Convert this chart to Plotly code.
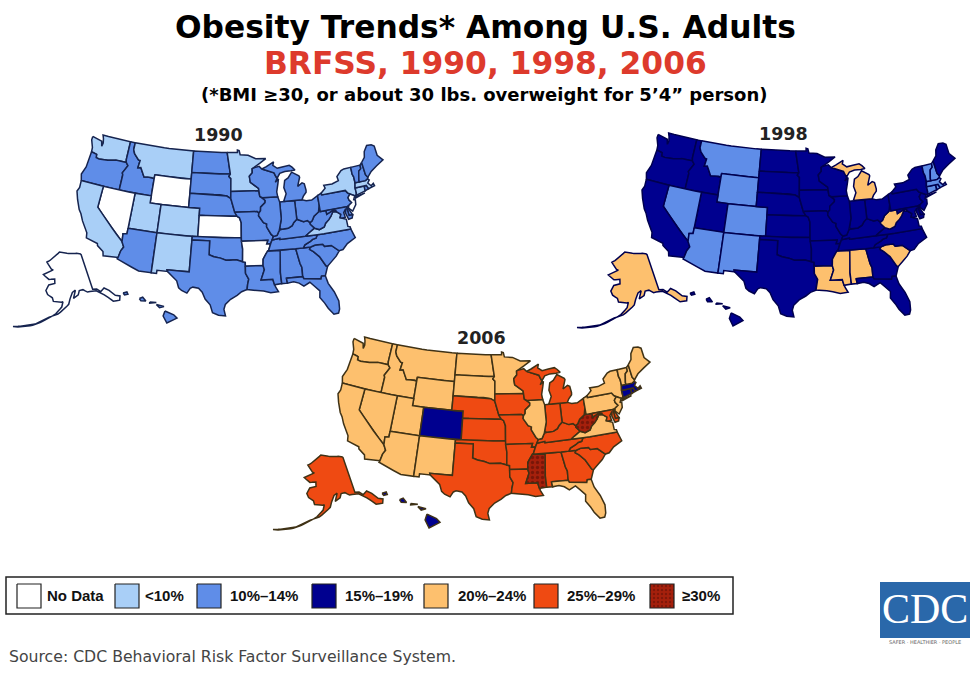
import numpy as np
import plotly.graph_objects as go

# legend classes
categories = ['No Data', '<10%', '10%\u201314%', '15%\u201319%', '20%\u201324%', '25%\u201329%', '\u226530%']
category_colors = ['#ffffff', '#a9cff7', '#5f8de8', '#00008f', '#fdc06e', '#ef4a12', '#a5200c']

# class of each state per year, everything not listed falls in the default class
default_1990 = '10%\u201314%'
no_data_1990 = ['WY', 'NV', 'KS', 'AR', 'AK', 'NJ']
under10_1990 = ['WA', 'MT', 'MN', 'NY', 'UT', 'CO', 'NM', 'CA', 'VA', 'MA', 'CT']

default_1998 = '15%\u201319%'
c10_14_1998 = ['MT', 'WY', 'NV', 'AZ', 'NM', 'CO', 'VT', 'NH', 'MA', 'CT', 'RI']
c20_24_1998 = ['AK', 'MI', 'WV', 'SC', 'LA', 'MS', 'AL']

default_2006 = '25%\u201329%'
c15_19_2006 = ['CO', 'MA', 'CT', 'RI', 'HI']
c20_24_2006 = ['WA', 'OR', 'CA', 'NV', 'ID', 'MT', 'WY', 'UT', 'AZ', 'NM', 'ND', 'SD', 'MN', 'IL',
               'NY', 'PA', 'VA', 'FL', 'ME', 'NH', 'VT', 'NJ']
c30_2006 = ['MS', 'WV']

# simplified state outlines, (lon, lat)
lower48 = {
    'WA': [(-124.7,48.4),(-123.0,48.15),(-122.7,48.1),(-122.4,47.4),(-122.3,47.9),(-122.5,48.5),(-122.8,49),(-117.03,49),(-117.04,46.4),(-116.92,46),(-118.98,46),(-119.3,45.93),(-120.5,45.7),(-121.2,45.65),(-122.2,45.57),(-122.8,45.65),(-122.9,46.1),(-123.4,46.2),(-124,46.27),(-124.1,46.9),(-124.7,47.9)],
    'OR': [(-124,46.27),(-123.4,46.2),(-122.9,46.1),(-122.8,45.65),(-122.2,45.57),(-121.2,45.65),(-120.5,45.7),(-119.3,45.93),(-118.98,46),(-116.92,46),(-116.46,45.6),(-116.85,44.95),(-117.2,44.45),(-117.03,44.2),(-117.03,42),(-124.2,42),(-124.55,42.85),(-124.1,44),(-123.95,45.5)],
    'ID': [(-117.03,49),(-116.05,49),(-116.05,48),(-115.7,47.45),(-114.7,46.7),(-114.35,46.65),(-114.5,45.6),(-113.95,45.7),(-113.45,45.05),(-113,44.45),(-112.3,44.55),(-111.5,44.55),(-111.05,44.48),(-111.05,42),(-117.03,42),(-117.03,44.2),(-117.2,44.45),(-116.85,44.95),(-116.46,45.6),(-116.92,46),(-117.04,46.4)],
    'MT': [(-116.05,49),(-104.05,49),(-104.05,45),(-111.05,45),(-111.05,44.48),(-111.5,44.55),(-112.3,44.55),(-113,44.45),(-113.45,45.05),(-113.95,45.7),(-114.5,45.6),(-114.35,46.65),(-114.7,46.7),(-115.7,47.45),(-116.05,48)],
    'WY': [(-111.05,45),(-104.05,45),(-104.05,41),(-111.05,41)],
    'UT': [(-114.05,42),(-111.05,42),(-111.05,41),(-109.05,41),(-109.05,37),(-114.05,37)],
    'CO': [(-109.05,41),(-102.05,41),(-102.05,37),(-109.05,37)],
    'NV': [(-120,42),(-114.05,42),(-114.05,36.2),(-114.7,36.1),(-114.6,35),(-120,39)],
    'CA': [(-124.2,42),(-120,42),(-120,39),(-114.6,35),(-114.15,34.3),(-114.5,33.7),(-114.7,32.72),(-117.12,32.53),(-117.3,33.1),(-118.4,33.75),(-118.5,34.03),(-119.2,34.15),(-120.5,34.45),(-120.65,35.15),(-121.9,36.6),(-122.5,37.5),(-123,38),(-123.8,39.3),(-124.35,40.4),(-124.1,41)],
    'AZ': [(-114.05,37),(-109.05,37),(-109.05,31.33),(-111.07,31.33),(-114.8,32.5),(-114.7,32.72),(-114.5,33.7),(-114.15,34.3),(-114.6,35),(-114.7,36.1),(-114.05,36.2)],
    'NM': [(-109.05,37),(-103,37),(-103.05,32),(-106.6,32),(-106.5,31.78),(-108.2,31.78),(-108.2,31.33),(-109.05,31.33)],
    'ND': [(-104.05,49),(-97.23,49),(-96.85,47.5),(-96.56,45.94),(-104.05,45.94)],
    'SD': [(-104.05,45.94),(-96.56,45.94),(-96.85,45.6),(-96.45,45.3),(-96.45,43.5),(-96.45,42.5),(-97.2,42.85),(-98.5,43),(-104.05,43)],
    'NE': [(-104.05,43),(-98.5,43),(-97.2,42.85),(-96.45,42.5),(-96.1,41.7),(-95.85,40.9),(-95.3,40),(-102.05,40),(-102.05,41),(-104.05,41)],
    'KS': [(-102.05,40),(-95.3,40),(-94.9,39.8),(-94.6,39.1),(-94.62,37),(-102.05,37)],
    'OK': [(-103,37),(-94.62,37),(-94.43,35.4),(-94.48,33.64),(-95.5,33.9),(-96.6,33.85),(-97.2,33.85),(-98.1,34.13),(-99.2,34.3),(-100,34.56),(-100,36.5),(-103,36.5)],
    'TX': [(-103,36.5),(-100,36.5),(-100,34.56),(-99.2,34.3),(-98.1,34.13),(-97.2,33.85),(-96.6,33.85),(-95.5,33.9),(-94.48,33.64),(-94.04,33.55),(-94.04,32),(-93.55,31.18),(-93.75,30.4),(-93.85,29.7),(-94.7,29.4),(-95.4,28.9),(-96.4,28.35),(-97.2,27.6),(-97.4,26.9),(-97.15,25.96),(-98.2,26.05),(-99.1,26.4),(-99.5,27.5),(-100.3,28.3),(-100.8,29.25),(-101.4,29.77),(-102.3,29.88),(-102.7,29.7),(-103.15,28.98),(-104,29.3),(-104.5,29.65),(-104.9,30.6),(-106.5,31.78),(-106.6,32),(-103.05,32)],
    'MN': [(-97.23,49),(-95.15,49),(-95.15,49.38),(-94.8,49.3),(-94.6,48.7),(-93,48.6),(-91.5,48.05),(-89.5,48),(-92.05,46.75),(-92.3,46.65),(-92.3,46.1),(-92.9,45.6),(-92.75,44.75),(-91.25,43.85),(-91.22,43.5),(-96.45,43.5),(-96.45,45.3),(-96.85,45.6),(-96.56,45.94),(-96.85,47.5)],
    'IA': [(-96.45,43.5),(-91.22,43.5),(-91.1,42.7),(-90.15,42.1),(-90.2,41.8),(-91.05,41.2),(-91.1,40.7),(-91.42,40.38),(-91.73,40.6),(-95.77,40.58),(-95.85,40.9),(-96.1,41.7),(-96.45,42.5)],
    'MO': [(-95.77,40.58),(-91.73,40.6),(-91.42,40.38),(-91.5,40),(-90.7,39),(-90.15,38.8),(-90.2,38.4),(-89.5,37.3),(-89.13,37),(-89.42,36.5),(-89.7,36),(-90.37,36),(-90.15,36.5),(-94.62,36.5),(-94.62,37),(-94.6,39.1),(-94.9,39.8),(-95.3,40)],
    'AR': [(-94.62,36.5),(-90.15,36.5),(-90.37,36),(-89.7,36),(-90.1,35.1),(-90.6,34.6),(-91.1,33.9),(-91.17,33),(-94.04,33),(-94.04,33.55),(-94.48,33.64),(-94.43,35.4)],
    'LA': [(-94.04,33),(-91.17,33),(-91,32.4),(-91.6,31),(-89.75,31),(-89.55,30.2),(-89.4,29.9),(-89,29.2),(-90.2,29.1),(-91.3,29.4),(-92.2,29.55),(-93.85,29.7),(-93.75,30.4),(-93.55,31.18),(-94.04,32)],
    'MS': [(-91.17,33),(-91.1,33.9),(-90.6,34.6),(-90.3,35),(-88.2,35),(-88.1,34.9),(-88.47,31.9),(-88.4,30.3),(-89.55,30.2),(-89.75,31),(-91.6,31),(-91,32.4)],
    'AL': [(-88.2,35),(-85.6,35),(-85.18,32.87),(-84.95,32.3),(-85,31),(-87.6,31),(-87.5,30.3),(-88,30.25),(-88.4,30.3),(-88.47,31.9),(-88.1,34.9)],
    'GA': [(-85.6,35),(-83.1,35),(-83.35,34.7),(-82.75,34.3),(-81.9,33.5),(-81.4,32.6),(-81.1,32.1),(-80.85,32),(-81.3,31.2),(-81.45,30.72),(-82.05,30.75),(-82.2,30.37),(-84.86,30.7),(-85,31),(-84.95,32.3),(-85.18,32.87)],
    'FL': [(-87.6,31),(-85,31),(-84.86,30.7),(-82.2,30.37),(-82.05,30.75),(-81.45,30.72),(-81.2,29.6),(-80.5,28.3),(-80.05,26.9),(-80.15,25.75),(-80.4,25.2),(-81.1,25.15),(-81.8,26.1),(-82.2,26.9),(-82.8,27.8),(-82.65,28.7),(-83.4,29.5),(-84,30.1),(-85,29.65),(-85.7,30.15),(-86.5,30.4),(-87.5,30.3)],
    'SC': [(-83.35,34.7),(-83.1,35),(-82.3,35.2),(-81.05,35.15),(-80.8,34.82),(-79.67,34.8),(-78.55,33.87),(-79.2,33.2),(-79.9,32.7),(-80.85,32),(-81.1,32.1),(-81.4,32.6),(-81.9,33.5),(-82.75,34.3)],
    'NC': [(-84.32,35),(-83.1,35),(-82.3,35.2),(-81.05,35.15),(-80.8,34.82),(-79.67,34.8),(-78.55,33.87),(-77.9,33.95),(-77,34.65),(-76,35.1),(-75.5,35.25),(-75.9,36.55),(-81.68,36.59),(-82,36.13),(-82.6,36.03),(-83,35.8),(-84,35.4)],
    'TN': [(-90.3,35),(-88.2,35),(-85.6,35),(-84.32,35),(-84,35.4),(-83,35.8),(-82.6,36.03),(-82,36.13),(-81.68,36.59),(-83.68,36.6),(-88.07,36.5),(-88.07,36.68),(-89.42,36.5),(-89.7,36),(-90.1,35.1)],
    'KY': [(-89.42,36.5),(-88.07,36.68),(-88.07,36.5),(-83.68,36.6),(-83.1,36.95),(-81.97,37.54),(-82.6,38.17),(-82.6,38.4),(-83,38.72),(-83.7,38.65),(-84.82,39.1),(-85.4,38.7),(-85.75,38.27),(-86.5,37.95),(-87.6,37.9),(-88.05,37.8),(-88.5,37.1),(-89.13,37)],
    'VA': [(-75.9,36.55),(-81.68,36.59),(-83.68,36.6),(-83.1,36.95),(-81.97,37.54),(-81.2,37.25),(-80.3,37.5),(-79.95,38),(-79.3,38.4),(-78.85,38.8),(-78.35,39.4),(-77.72,39.32),(-77.05,38.85),(-77.3,38.4),(-76.3,38),(-76.3,37),(-75.95,36.9)],
    'WV': [(-81.97,37.54),(-82.6,38.17),(-82.6,38.4),(-82.2,38.6),(-81.75,39.2),(-80.85,39.7),(-80.52,40.64),(-80.52,39.72),(-79.48,39.72),(-79.48,39.2),(-78.45,39.55),(-77.83,39.6),(-77.72,39.32),(-78.35,39.4),(-78.85,38.8),(-79.3,38.4),(-79.95,38),(-80.3,37.5),(-81.2,37.25)],
    'OH': [(-84.82,39.1),(-84.8,41.72),(-83.45,41.73),(-82.7,41.5),(-81.7,41.5),(-80.52,41.98),(-80.52,40.64),(-80.85,39.7),(-81.75,39.2),(-82.2,38.6),(-82.6,38.4),(-83,38.72),(-83.7,38.65)],
    'IN': [(-87.53,41.72),(-86.8,41.76),(-84.8,41.72),(-84.82,39.1),(-85.4,38.7),(-85.75,38.27),(-86.5,37.95),(-87.6,37.9),(-87.95,38.1),(-87.53,39.35)],
    'IL': [(-90.64,42.5),(-87.8,42.5),(-87.53,41.72),(-87.53,39.35),(-87.95,38.1),(-88.05,37.8),(-88.5,37.1),(-89.13,37),(-89.5,37.3),(-90.2,38.4),(-90.15,38.8),(-90.7,39),(-91.5,40),(-91.42,40.38),(-91.1,40.7),(-91.05,41.2),(-90.2,41.8),(-90.15,42.1)],
    'WI': [(-92.05,46.75),(-90.9,46.95),(-90.4,46.55),(-89.1,46.14),(-88.1,45.9),(-87.8,45.35),(-87.6,45.1),(-88,44.55),(-87.35,45),(-87.55,44.3),(-87.9,43.2),(-87.8,42.5),(-90.64,42.5),(-91.1,42.7),(-91.22,43.5),(-91.25,43.85),(-92.75,44.75),(-92.9,45.6),(-92.3,46.1),(-92.3,46.65)],
    'MI': [(-86.8,41.76),(-84.8,41.72),(-83.45,41.73),(-83.1,42.2),(-82.5,42.7),(-82.45,43),(-82.6,43.9),(-83,44.07),(-83.9,43.65),(-83.3,44.9),(-83.4,45.1),(-84.7,45.75),(-85,45.4),(-85.5,45),(-86.2,44.7),(-86.5,43.7),(-86.2,42.8),(-86.6,41.95),None,
           (-90.4,46.55),(-89.1,46.14),(-88.1,45.9),(-87.8,45.35),(-87.6,45.1),(-87,45.75),(-86,45.95),(-84.8,45.95),(-84,46),(-84.5,46.45),(-85,46.75),(-86.2,46.65),(-87.4,46.5),(-88.2,46.95),(-88,47.45),(-89.5,46.85)],
    'PA': [(-80.52,41.98),(-79.76,42.27),(-79.76,42),(-75.35,42),(-75.05,41.6),(-74.7,41.36),(-75.15,40.95),(-75.1,40.6),(-74.73,40.15),(-75.4,39.8),(-75.79,39.72),(-80.52,39.72),(-80.52,40.64)],
    'NY': [(-79.76,42),(-79.76,42.27),(-78.9,42.85),(-79.05,43.27),(-77.5,43.25),(-76.2,43.55),(-76.3,44.15),(-75.3,44.85),(-74.7,45),(-73.35,45),(-73.4,44),(-73.25,43.6),(-73.27,42.75),(-73.5,42.05),(-73.5,41.3),(-73.65,41),(-73.9,41),(-74.7,41.36),(-75.05,41.6),(-75.35,42),None,
           (-74.03,40.6),(-72,41.05),(-73.75,40.85)],
    'NJ': [(-74.7,41.36),(-73.9,41),(-74.25,40.5),(-73.98,40.4),(-74.1,39.75),(-74.9,38.95),(-75.5,39.5),(-75.4,39.8),(-74.73,40.15),(-75.1,40.6),(-75.15,40.95)],
    'DE': [(-75.79,39.72),(-75.4,39.8),(-75.55,39.45),(-75.05,38.45),(-75.7,38.46)],
    'MD': [(-79.48,39.72),(-75.79,39.72),(-75.7,38.46),(-75.05,38.45),(-75.25,38.03),(-75.9,37.95),(-76.2,38.9),(-76,39.5),(-76.5,39),(-76.4,38.3),(-76.95,38.3),(-77.3,38.4),(-77.05,38.85),(-77.72,39.32),(-77.83,39.6),(-78.45,39.55),(-79.48,39.2)],
    'CT': [(-73.5,42.05),(-71.8,42.02),(-71.85,41.32),(-73.65,41),(-73.5,41.3)],
    'RI': [(-71.8,42.02),(-71.38,42.02),(-71.15,41.5),(-71.85,41.32)],
    'MA': [(-73.5,42.05),(-73.27,42.75),(-71.3,42.7),(-70.85,42.88),(-70.6,42.65),(-71,42.3),(-70.55,41.8),(-70.05,42.05),(-69.95,41.7),(-70.65,41.55),(-71.15,41.5),(-71.38,42.02),(-71.8,42.02)],
    'VT': [(-73.35,45),(-71.5,45),(-71.55,44.5),(-72.05,44.2),(-72.45,43),(-72.46,42.73),(-73.27,42.75),(-73.25,43.6),(-73.4,44)],
    'NH': [(-71.5,45),(-71.08,45.3),(-71,43.5),(-70.7,43.07),(-70.85,42.88),(-71.3,42.7),(-72.46,42.73),(-72.45,43),(-72.05,44.2),(-71.55,44.5)],
    'ME': [(-71.08,45.3),(-70.3,45.9),(-70,46.7),(-69.2,47.45),(-68.3,47.35),(-67.8,47.07),(-67.8,45.7),(-67,44.85),(-68.5,44.3),(-69.8,43.75),(-70.7,43.07),(-71,43.5)],
}
alaska = [(-141,69.65),(-143,70.1),(-148,70.4),(-152,70.85),(-156.6,71.35),(-160,70.4),(-163,69.5),(-166.2,68.85),(-163,67.1),(-161.8,66.9),(-164,66.55),(-168,65.65),(-164.5,64.5),(-161,64.6),(-161,63.5),(-164.5,63.1),(-166,61.7),(-165,60.7),(-162.5,59.9),(-162,59),(-158,58.7),(-157.2,58.8),(-158,57.5),(-161,55.9),(-164.8,54.6),(-170,52.9),(-176,51.8),(-179,51.5),(-176,52),(-170,53.1),(-165,54.9),(-160,55.8),(-157.5,56.7),(-154.5,58),(-153.5,59.3),(-151.8,60.8),(-150,61.2),(-151.7,59.3),(-149,59.9),(-148,60.9),(-146,60.9),(-144,60),(-141.5,59.9),(-139.5,59.6),(-137.5,58.6),(-136.5,57.9),(-135.3,56.9),(-133.8,55.5),(-131,55),(-130,55.9),(-131.8,56.6),(-133.5,58.4),(-135.3,59.5),(-137.5,59),(-139,60),(-141,60.3)]
hawaii = [(-155.9,20.25),(-155.1,19.85),(-154.8,19.5),(-155.7,18.95),(-156.05,19.7),None,
          (-156.7,20.95),(-156,20.75),(-156.4,20.6),None,
          (-157.3,21.2),(-156.7,21.15),(-157.3,21.08),None,
          (-158.25,21.55),(-157.95,21.7),(-157.65,21.3),(-158.1,21.3),None,
          (-159.75,22.1),(-159.4,22.23),(-159.3,22),(-159.6,21.9)]

years = ['1990', '1998', '2006']


def albers(lon, lat, lat1, lat2, lon0, lat0=37.5):
    phi1, phi2, phi0 = np.radians([lat1, lat2, lat0])
    n = (np.sin(phi1) + np.sin(phi2)) / 2
    c = np.cos(phi1) ** 2 + 2 * n * np.sin(phi1)
    rho0 = np.sqrt(c - 2 * n * np.sin(phi0)) / n
    rho = np.sqrt(c - 2 * n * np.sin(np.radians(lat))) / n
    theta = n * np.radians(lon - lon0)
    return rho * np.sin(theta), rho0 - rho * np.cos(theta)


def split_parts(points):
    parts, current = [], []
    for p in points:
        if p is None:
            parts.append(current)
            current = []
        else:
            current.append(p)
    parts.append(current)
    return parts


def densify(points):
    # long straight borders have to bend once projected
    out = []
    for part in split_parts(points):
        ring = part + [part[0]]
        for a, b in zip(ring[:-1], ring[1:]):
            steps = max(1, int(abs(b[0] - a[0]) / 1.0))
            for i in range(steps):
                t = i / steps
                out.append((a[0] + (b[0] - a[0]) * t, a[1] + (b[1] - a[1]) * t))
        out.append(part[0])
        out.append(None)
    return out[:-1]


def project(points, proj):
    xs, ys = [], []
    for p in densify(points):
        if p is None:
            xs.append(np.nan)
            ys.append(np.nan)
        else:
            x, y = proj(p[0], p[1])
            xs.append(x)
            ys.append(y)
    return np.array(xs), np.array(ys)


def proj_main(lon, lat):
    return albers(lon, lat, 29.5, 45.5, -96)


def proj_ak(lon, lat):
    return albers(lon, lat, 55, 65, -163, 60)


def proj_hi(lon, lat):
    return albers(lon, lat, 8, 18, -150, 20)


main_xy = {k: project(v, proj_main) for k, v in lower48.items()}
ak_xy = project(alaska, proj_ak)
hi_xy = project(hawaii, proj_hi)
main_x = np.concatenate([v[0] for v in main_xy.values()])
main_y = np.concatenate([v[1] for v in main_xy.values()])


def fit(xs, ys, refx, refy, box):
    x0, x1, y0, y1 = box
    sx = (x1 - x0) / (np.nanmax(refx) - np.nanmin(refx))
    sy = (y1 - y0) / (np.nanmax(refy) - np.nanmin(refy))
    return x0 + (xs - np.nanmin(refx)) * sx, y0 + (np.nanmax(refy) - ys) * sy


def class_of(state, year):
    if year == '1990':
        if state in no_data_1990:
            return 'No Data'
        if state in under10_1990:
            return '<10%'
        return default_1990
    if year == '1998':
        if state in c10_14_1998:
            return '10%\u201314%'
        if state in c20_24_1998:
            return '20%\u201324%'
        return default_1998
    if state in c15_19_2006:
        return '15%\u201319%'
    if state in c20_24_2006:
        return '20%\u201324%'
    if state in c30_2006:
        return '\u226530%'
    return default_2006


# pixel boxes of each map on the page
main_boxes = {'1990': (77, 383, 135, 316), '1998': (642, 955, 133, 317), '2006': (338, 650, 337, 520)}
ak_boxes = {'1990': (13, 120, 252, 327), '1998': (577, 687, 252, 328), '2006': (273, 383, 455, 530)}
hi_boxes = {'1990': (123, 177, 292, 323), '1998': (690, 743, 292, 326), '2006': (382, 440, 492, 528)}
line_colors = {'1990': '#16244f', '1998': '#00004f', '2006': '#3f3216'}
year_label_x = {'1990': 218, '1998': 783, '2006': 481}
year_label_y = {'1990': 135, '1998': 134, '2006': 338}

fig = go.Figure()


def add_state(xs, ys, state, year):
    cat = class_of(state, year)
    color = category_colors[categories.index(cat)]
    pattern = dict(shape='.', fgcolor='#4d0c04', bgcolor=color, size=5, solidity=0.35) if cat == '\u226530%' else None
    fig.add_trace(go.Scatter(x=xs, y=ys, mode='lines', fill='toself', fillcolor=color, fillpattern=pattern,
                             line=dict(color=line_colors[year], width=1.5), hoverinfo='skip', showlegend=False))


for year in years:
    for state, (sx, sy) in main_xy.items():
        px_x, px_y = fit(sx, sy, main_x, main_y, main_boxes[year])
        add_state(px_x, px_y, state, year)
    ax, ay = fit(ak_xy[0], ak_xy[1], ak_xy[0], ak_xy[1], ak_boxes[year])
    add_state(ax, ay, 'AK', year)
    hx, hy = fit(hi_xy[0], hi_xy[1], hi_xy[0], hi_xy[1], hi_boxes[year])
    add_state(hx, hy, 'HI', year)

# legend
legend_x = [17, 115, 197, 312, 424, 534, 650]
label_x = [45, 143, 228, 343, 456, 565, 680]
shapes = [dict(type='rect', x0=6, x1=733, y0=577, y1=614, line=dict(color='#222222', width=1.5), fillcolor='white', layer='below'),
          dict(type='rect', x0=880, x1=970, y0=582, y1=638, line=dict(width=0), fillcolor='#2a68aa', layer='below')]
for cat, color, x in zip(categories, category_colors, legend_x):
    pattern = dict(shape='.', fgcolor='#5a0e05', bgcolor=color, size=4, solidity=0.3) if cat == '\u226530%' else None
    fig.add_trace(go.Scatter(x=[x, x + 24, x + 24, x, x], y=[584, 584, 608, 608, 584], mode='lines', fill='toself',
                             fillcolor=color, fillpattern=pattern, line=dict(color='#222222', width=1.2),
                             hoverinfo='skip', showlegend=False))

annotations = []


def add_text(x, y, text, size, color='black', family='DejaVu Sans', bold=False, xanchor='left'):
    label = '<b>' + text + '</b>' if bold else text
    annotations.append(dict(x=x, y=y, xref='x', yref='y', text=label, showarrow=False, xanchor=xanchor, yanchor='middle',
                            font=dict(size=size, color=color, family=family)))


add_text(485, 27, 'Obesity Trends* Among U.S. Adults', 31.3, bold=True, xanchor='center')
add_text(485, 63, 'BRFSS, 1990, 1998, 2006', 31.3, color='#dd3a2c', bold=True, xanchor='center')
add_text(484, 94, '(*BMI \u226530, or about 30 lbs. overweight for 5\u20194\u201d person)', 18, bold=True, xanchor='center')
for year in years:
    add_text(year_label_x[year], year_label_y[year], year, 17.5, color='#222222', bold=True, xanchor='center')
for cat, x in zip(categories, label_x):
    add_text(x, 595, cat, 15, color='#111111', family='Liberation Sans Narrow, Liberation Sans', bold=True)
add_text(7, 656, 'Source: CDC Behavioral Risk Factor Surveillance System.', 15.7, color='#444444')
add_text(925, 609, 'CDC', 42, color='white', family='Liberation Serif', xanchor='center')
add_text(925, 642, 'SAFER \u00b7 HEALTHIER \u00b7 PEOPLE', 5, color='#666666', xanchor='center')

fig.update_layout(
    width=977,
    height=673,
    margin=dict(l=0, r=0, t=0, b=0),
    plot_bgcolor='white',
    paper_bgcolor='white',
    xaxis=dict(range=[0, 977], visible=False, fixedrange=True),
    yaxis=dict(range=[673, 0], visible=False, fixedrange=True),
    shapes=shapes,
    annotations=annotations,
)
fig.write_html("out.html", post_script="document.body.style.margin='0';", config=dict(displayModeBar=False))
